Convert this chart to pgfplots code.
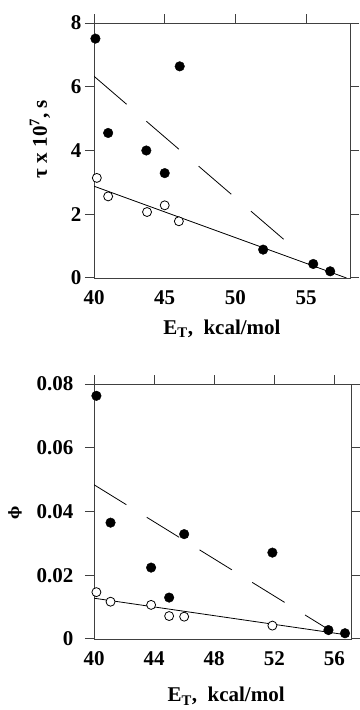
\documentclass[border=0pt]{standalone}
\usepackage{fontspec}
\setmainfont{Liberation Serif}
\newfontfamily\dejaserif{DejaVu Serif}
\usepackage{pgfplots}
\pgfplotsset{compat=1.18}
\pgfplotsset{
  myax/.style={
    scale only axis,
    anchor=north west,
    font=\fontsize{21bp}{24bp}\selectfont\bfseries,
    /pgf/number format/assume math mode=true,
    axis line style={black!75, line width=0.9pt},
    tick style={black!75, line width=1pt},
    tick align=outside,
    major tick length=9bp,
    xtick pos=right,
    xticklabel pos=left,
    scaled y ticks=false,
  },
  filled/.style={only marks, mark=*, mark size=4.8bp, mark options={fill=black, draw=black}},
  open/.style={only marks, mark=*, mark size=4.5bp, mark options={fill=white, draw=black, line width=0.8pt}},
}
\begin{document}
\begin{tikzpicture}
\path[use as bounding box] (0bp,-710bp) rectangle (360bp,0bp);
% ---------------- top panel ----------------
\begin{axis}[myax,
  at={(94bp,-23bp)}, width=256bp, height=255bp,
  xmin=40, xmax=58.1, ymin=0, ymax=8,
  xtick={40,45,50,55}, ytick={0,2,4,6,8},
  xlabel={E\textsubscript{T},\ \ kcal/mol},
  ylabel={τ x 10\textsuperscript{7}, s},
  xlabel style={at={(rel axis cs:0.5,-0.22)}, anchor=base},
  ylabel style={at={(rel axis cs:-0.211,0.545)}, anchor=center},
]
\addplot[black, line width=0.8pt] coordinates {(40,2.88) (57.85,0)};
\addplot[black, line width=0.8pt, dash pattern=on 43bp off 26bp] coordinates {(40,6.33) (53.5,1.18)};
\addplot[filled] coordinates {
 (40.1,7.51) (46.06,6.64) (41.0,4.55) (43.7,4.0) (45.0,3.29) (51.96,0.89) (55.5,0.44) (56.7,0.21)};
\addplot[open] coordinates {
 (40.2,3.14) (41.0,2.56) (43.75,2.07) (45.0,2.28) (46.0,1.78)};
\end{axis}
% ---------------- bottom panel ----------------
\begin{axis}[myax,
  at={(94bp,-384bp)}, width=257bp, height=255bp,
  xmin=40, xmax=57.1, ymin=0, ymax=0.08,
  xtick={40,44,48,52,56}, ytick={0,0.02,0.04,0.06,0.08},
  yticklabels={0,0.02,0.04,0.06,0.08},
  xlabel={E\textsubscript{T},\ \ kcal/mol},
  ylabel={{\dejaserif\fontsize{14bp}{16bp}\selectfont ϕ}},
  xlabel style={at={(rel axis cs:0.514,-0.247)}, anchor=base},
  ylabel style={at={(rel axis cs:-0.307,0.494)}, anchor=center},
  yticklabel style={xshift=-8bp},
]
\addplot[black, line width=0.8pt] coordinates {(40,0.0128) (56.8,0.0013)};
\addplot[black, line width=0.8pt, dash pattern=on 38bp off 24bp] coordinates {(40,0.0484) (55.6,0.003)};
\addplot[filled] coordinates {
 (40.16,0.0763) (41.1,0.0365) (43.8,0.0224) (46.0,0.0329) (45.0,0.0130) (51.87,0.0271) (55.6,0.0028) (56.7,0.0018)};
\addplot[open] coordinates {
 (40.16,0.0147) (41.1,0.0117) (43.8,0.0107) (45.0,0.0072) (46.0,0.0070) (51.87,0.0042)};
\end{axis}
\end{tikzpicture}
\end{document}
